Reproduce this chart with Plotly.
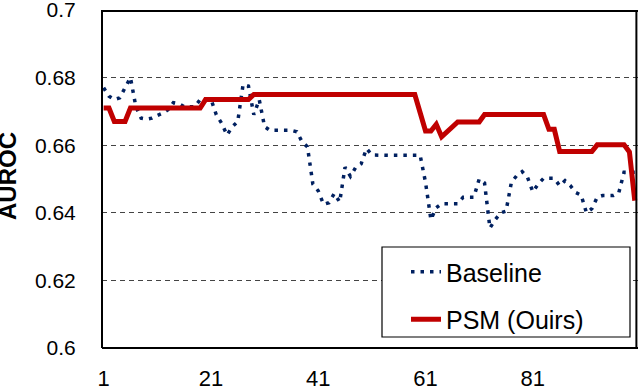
import plotly.graph_objects as go

# =====================
# DATA
# =====================
x_vals = list(range(1, 101))

baseline = [
    0.677, 0.6745, 0.6735, 0.674, 0.677, 0.680, 0.6715, 0.668, 0.6677, 0.668,
    0.6688, 0.6695, 0.6705, 0.6726, 0.6723, 0.6714, 0.6714, 0.6714, 0.6735, 0.6737,
    0.6737, 0.669, 0.6665, 0.663, 0.6655, 0.667, 0.678, 0.6775, 0.669, 0.6735,
    0.6655, 0.6644, 0.6644, 0.6644, 0.6644, 0.6644, 0.664, 0.661, 0.6595, 0.6485,
    0.6465, 0.6425, 0.643, 0.6457, 0.6432, 0.6535, 0.6508, 0.6535, 0.6545, 0.659,
    0.6571, 0.657, 0.657, 0.657, 0.657, 0.657, 0.657, 0.657, 0.657, 0.657,
    0.649, 0.638, 0.6415, 0.6427, 0.6427, 0.6427, 0.6427, 0.6446, 0.6446, 0.6446,
    0.650, 0.6488, 0.6355, 0.638, 0.640, 0.6405, 0.649, 0.651, 0.6522, 0.6505,
    0.6462, 0.6485, 0.6502, 0.6502, 0.6502, 0.648, 0.6495, 0.648, 0.646, 0.6452,
    0.640, 0.6412, 0.6446, 0.6451, 0.6451, 0.6451, 0.6458, 0.652, 0.652, 0.652,
]

psm = (
    [0.671] * 2 + [0.667] * 3 + [0.671] * 14 + [0.6735] * 9 + [0.675] * 31
    + [0.6696, 0.6642, 0.6642, 0.6662, 0.6625, 0.664, 0.6655]
    + [0.6669] * 5 + [0.6691] * 12 + [0.6647] * 2 + [0.6581] * 7
    + [0.6601] * 6 + [0.658, 0.6436]
)

series_names = ["Baseline", "PSM (Ouirs)"]
x_ticks = [1, 21, 41, 61, 81]
y_ticks = [0.6, 0.62, 0.64, 0.66, 0.68, 0.7]
y_tick_text = ["0.6", "0.62", "0.64", "0.66", "0.68", "0.7"]

# =====================
# FIGURE
# =====================
W, H = 640, 388
L, R, T, B = 102, 2, 10, 40
pw, ph = W - L - R, H - T - B

def px_x(p):
    return (p - L) / pw

def px_y(p):
    return (H - B - p) / ph

fig = go.Figure()

fig.add_trace(go.Scatter(
    x=x_vals, y=baseline, mode="lines", name=series_names[0],
    line=dict(color="#002060", width=3.5, dash="3.5px,6px"),
    legendgroup="a",
))
fig.add_trace(go.Scatter(
    x=x_vals, y=psm, mode="lines", name=series_names[1],
    line=dict(color="#C00000", width=5),
    legendgroup="b",
))

axis_font = dict(family="Arial, Liberation Sans", color="black")

fig.update_xaxes(
    range=[0.7, 100.6], tickvals=x_ticks,
    showgrid=False, zeroline=False, showline=False, automargin=False,
    ticks="outside", ticklen=11, tickcolor="rgba(0,0,0,0)",
    ticklabeloverflow="allow",
    tickfont=dict(size=22, **axis_font),
)
fig.update_yaxes(
    range=[0.6, 0.7], tickvals=y_ticks, ticktext=y_tick_text,
    showgrid=True, gridcolor="#444", gridwidth=1, griddash="5px,4px",
    zeroline=False, showline=False, automargin=False,
    ticks="outside", ticklen=21, tickcolor="rgba(0,0,0,0)",
    ticklabeloverflow="allow",
    tickfont=dict(size=21, **axis_font),
)

# plot frame, drawn as four edges
frame = dict(color="black", width=2)
for x0, y0, x1, y1 in [(0, 0, 1, 0), (0, 0, 0, 1), (0, 0.997, 1, 0.997), (0.997, 0, 0.997, 1)]:
    fig.add_shape(type="line", xref="paper", yref="paper",
                  x0=x0, y0=y0, x1=x1, y1=y1, line=frame, layer="above")

# legend box (opaque, over gridlines)
fig.add_shape(
    type="rect", xref="paper", yref="paper",
    x0=px_x(382), x1=px_x(630), y0=px_y(337), y1=px_y(247),
    fillcolor="white", line=dict(color="black", width=1.2), layer="above",
)

fig.add_annotation(
    text="<b>AUROC</b>", textangle=-90, showarrow=False,
    xref="paper", yref="paper", x=px_x(8), y=px_y(176),
    xanchor="center", yanchor="middle",
    font=dict(size=24, **axis_font),
)

fig.update_layout(
    autosize=True,
    margin=dict(l=L, r=R, t=T, b=B, autoexpand=False),
    paper_bgcolor="white", plot_bgcolor="white",
    showlegend=True,
    legend=dict(
        x=px_x(384), y=px_y(249), xanchor="left", yanchor="top",
        bgcolor="rgba(0,0,0,0)", borderwidth=0,
        font=dict(size=25, **axis_font),
        traceorder="grouped", tracegroupgap=12,
        indentation=22,
    ),
)

fit_page = """
document.documentElement.style.height = '100%';
document.documentElement.style.overflow = 'hidden';
document.body.style.height = '100%';
document.body.style.margin = '0';
document.body.style.overflow = 'hidden';
var gd = document.getElementById('{plot_id}');
gd.parentElement.style.height = '100%';
gd.style.height = '100%';
gd.style.width = '100%';
window.scrollTo(0, 0);
Plotly.Plots.resize(gd);
"""

fig.write_html(
    "out.html",
    config={"displayModeBar": False},
    default_width="100%", default_height="100%",
    post_script=fit_page,
)
